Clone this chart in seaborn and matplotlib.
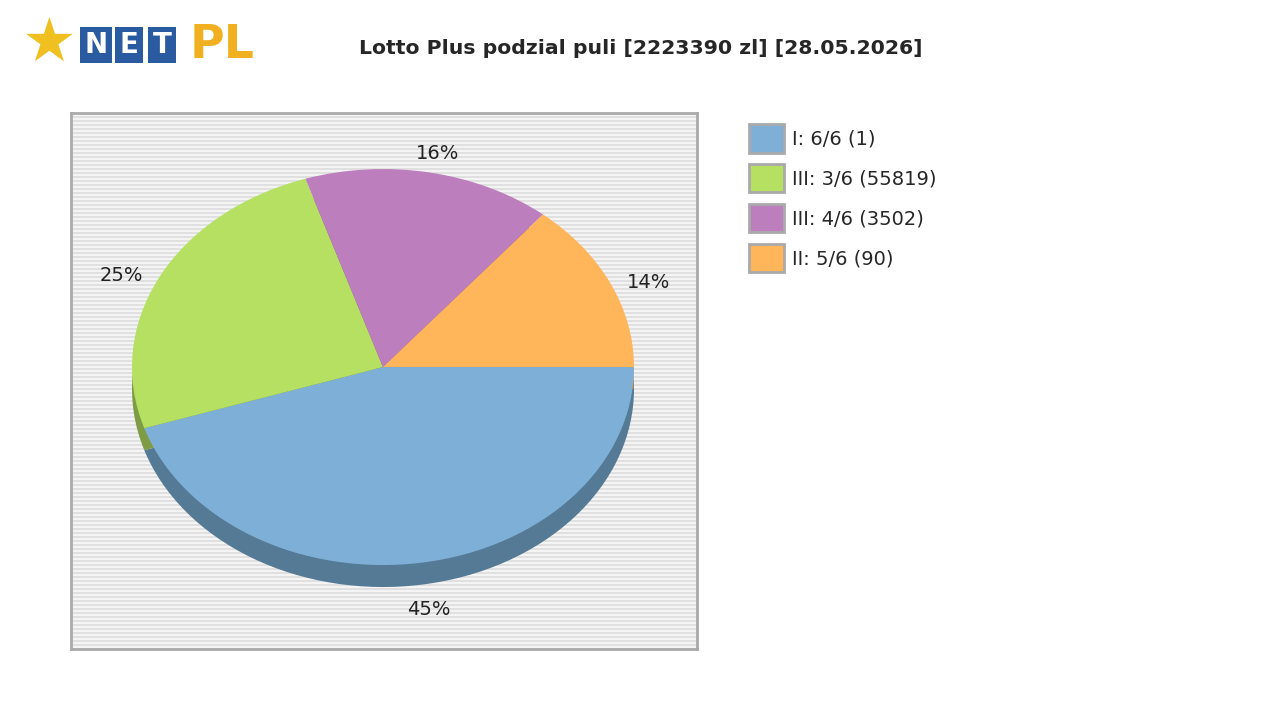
import matplotlib
matplotlib.use("Agg")
import matplotlib.pyplot as plt
import seaborn as sns
import numpy as np
from matplotlib.patches import Patch

sns.set_style("white")
plt.rcParams['font.family'] = ['DejaVu Sans']

categories = ["I: 6/6 (1)", "III: 3/6 (55819)", "III: 4/6 (3502)", "II: 5/6 (90)"]
shares = [45, 25, 16, 14]
colors = ["#7eafd6", "#b5e061", "#bd7ebe", "#ffb55a"]
shadow = ["#557a96", "#7e9c44", "#845885", "#b27e3f"]
title = "Lotto Plus podzial puli [2223390 zl] [28.05.2026]"

fig = plt.figure(figsize=(12.8, 7.2), dpi=100)
ax = fig.add_axes([71/1280, 71/720, 626/1280, 536/720])
ax.set_facecolor("#f4f4f4")

depth = 0.111
ax.pie(shares, colors=shadow, startangle=0, counterclock=False, center=(0, -depth),
       wedgeprops=dict(linewidth=0))
_, _, autotexts = ax.pie(shares, colors=colors, startangle=0, counterclock=False,
       autopct=lambda p: f"{p:.0f}%", pctdistance=1.17,
       wedgeprops=dict(linewidth=0), textprops=dict(fontsize=14, color="#222222"))
for t in autotexts:
    x, y = t.get_position()
    t.set_position((x, y - 0.07))
ax.set_aspect('auto')
ax.set_xlim(-1.243, 1.251)
ax.set_ylim(-1.424, 1.283)
for y in np.arange(-1.424, 1.283, 4/198):
    ax.axhline(y, color="#dcdcdc", lw=1.2, zorder=0)
ax.set_frame_on(True)
ax.set_xticks([]); ax.set_yticks([])
for s in ax.spines.values():
    s.set_visible(True); s.set_color("#aaaaaa"); s.set_linewidth(2)

handles = [Patch(facecolor=c, edgecolor="#aaaaaa", linewidth=2) for c in colors]
fig.legend(handles, categories, loc="upper left", bbox_to_anchor=(731/1280, 1-107/720),
           frameon=False, fontsize=14, handlelength=1.85, handleheight=1.85,
           labelspacing=0.6, handletextpad=0.4)

fig.text(641/1280, 1-48/720, title, ha="center", va="center", fontsize=14.7, fontweight="bold")
# logo
for i, ch in enumerate("NET"):
    fig.text((96+i*33)/1280, 1-45/720, ch, ha="center", va="center", fontsize=20,
             fontweight="bold", color="white",
             bbox=dict(boxstyle="square,pad=0.15", fc="#2a5aa0", ec="none"))
fig.text(190/1280, 1-45/720, "PL", ha="left", va="center", fontsize=34,
         fontweight="bold", color="#f0b020")
fig.text(48/1280, 1-44/720, "★", ha="center", va="center", fontsize=44, color="#f0c020")

fig.savefig("out.png", dpi=100)
